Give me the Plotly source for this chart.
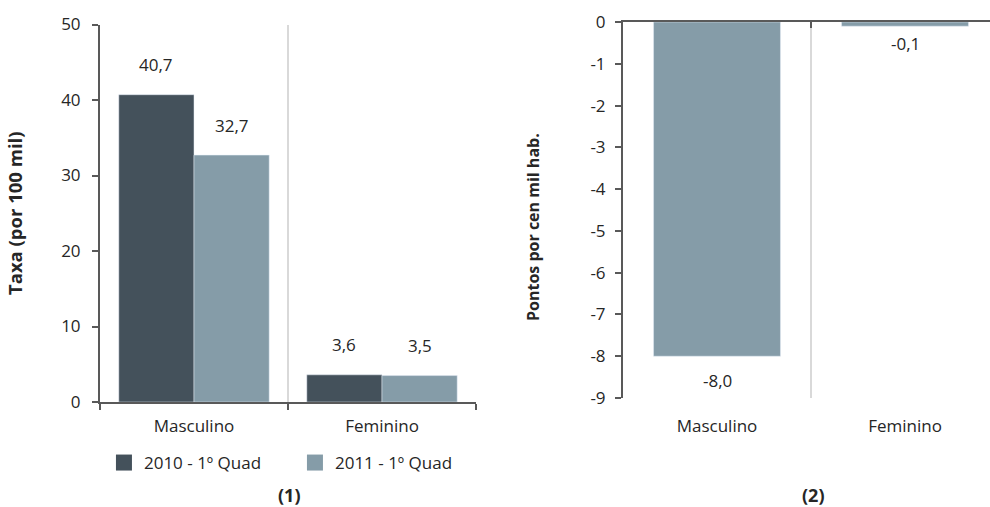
import plotly.graph_objects as go

# Data
categories = ["Masculino", "Feminino"]
taxa_2010 = [40.7, 3.6]
taxa_2011 = [32.7, 3.5]
variacao = [-8.0, -0.1]
series_names = ["2010 - 1º Quad", "2011 - 1º Quad"]
y1_ticks = [0, 10, 20, 30, 40, 50]
y2_ticks = [0, -1, -2, -3, -4, -5, -6, -7, -8, -9]

DARK = "#44515B"
LIGHT = "#859CA8"
AXIS = "#595959"
GRID = "#D9D9D9"
TXT = "#262626"
FONT = "Open Sans"
FS = 17

def fmt(v):
    return f"{v:.1f}".replace(".", ",")

fig = go.Figure()

# Chart (1): rates by sex
fig.add_trace(go.Bar(x=categories, y=taxa_2010, name=series_names[0], marker_color=DARK,
                     showlegend=False, xaxis="x", yaxis="y"))
fig.add_trace(go.Bar(x=categories, y=taxa_2011, name=series_names[1], marker_color=LIGHT,
                     showlegend=False, xaxis="x", yaxis="y"))

# Legend entries with larger square swatches
for nm, col in zip(series_names, [DARK, LIGHT]):
    fig.add_trace(go.Scatter(x=[None], y=[None], mode="markers", name=nm,
                             marker=dict(symbol="square", size=16, color=col),
                             xaxis="x", yaxis="y"))

# Chart (2): change in points
fig.add_trace(go.Bar(x=categories, y=variacao, marker_color=LIGHT, showlegend=False,
                     xaxis="x2", yaxis="y2", width=0.675))

# Dummy trace so the top axis of chart (2) is rendered
fig.add_trace(go.Scatter(x=[None], y=[None], xaxis="x3", yaxis="y2", showlegend=False))

lblfont = dict(size=FS, color=TXT, family=FONT)
annotations = []
for i, c in enumerate(categories):
    annotations.append(dict(x=c, y=taxa_2010[i], xref="x", yref="y", text=fmt(taxa_2010[i]),
                            showarrow=False, yshift=30, xshift=-37.6, yanchor="middle", font=lblfont))
    annotations.append(dict(x=c, y=taxa_2011[i], xref="x", yref="y", text=fmt(taxa_2011[i]),
                            showarrow=False, yshift=30, xshift=37.6, yanchor="middle", font=lblfont))
    annotations.append(dict(x=c, y=variacao[i], xref="x2", yref="y2", text=fmt(variacao[i]),
                            showarrow=False, yshift=-24 if i == 0 else -17, yanchor="middle",
                            font=lblfont))

annotations.append(dict(x=289 / 990, y=1 - 495 / 507, xref="paper", yref="paper", text="<b>(1)</b>",
                        showarrow=False, yanchor="middle", xanchor="center",
                        font=dict(size=18, color=TXT, family=FONT)))
annotations.append(dict(x=813 / 990, y=1 - 495 / 507, xref="paper", yref="paper", text="<b>(2)</b>",
                        showarrow=False, yanchor="middle", xanchor="center",
                        font=dict(size=18, color=TXT, family=FONT)))
# Y title of chart (2)
annotations.append(dict(x=533 / 990, y=1 - 227 / 507, xref="paper", yref="paper",
                        text="<b>Pontos por cen mil hab.</b>", textangle=-90, showarrow=False,
                        xanchor="center", yanchor="middle",
                        font=dict(size=16, color=TXT, family=FONT)))

tickfont = dict(size=FS, color=TXT, family=FONT)

fig.update_layout(
    width=990, height=507,
    margin=dict(l=0, r=0, t=0, b=0, autoexpand=False),
    paper_bgcolor="white", plot_bgcolor="white",
    font=dict(family=FONT, color=TXT),
    barmode="group", bargap=0.2, bargroupgap=0,
    showlegend=True,
    legend=dict(orientation="h", x=0.105, y=1 - 445 / 507, xanchor="left", yanchor="top",
                font=dict(size=FS, color=TXT, family=FONT), entrywidth=146, itemsizing="trace",
                bgcolor="rgba(0,0,0,0)"),
    xaxis=dict(domain=[100 / 990, 476 / 990], anchor="y", type="category", range=[-0.5, 1.5],
               showline=True, linecolor=AXIS, linewidth=2, ticks="outside", ticklen=6,
               tickcolor=AXIS, tickwidth=2, tickson="boundaries", showgrid=True,
               gridcolor=GRID, gridwidth=1.5, tickfont=tickfont, ticklabelstandoff=8,
               automargin=False, fixedrange=True),
    yaxis=dict(domain=[1 - 402 / 507, 1 - 24.5 / 507], anchor="x", range=[0, 50],
               tickvals=y1_ticks, showline=True, linecolor=AXIS, linewidth=2,
               ticks="outside", ticklen=6, tickcolor=AXIS, tickwidth=2, showgrid=False,
               zeroline=False, tickfont=tickfont, automargin=False, ticklabelstandoff=8,
               title=dict(text="<b>Taxa (por 100 mil)</b>",
                          font=dict(size=18.5, color=TXT, family=FONT), standoff=34)),
    xaxis2=dict(domain=[623 / 990, 1.0], anchor="y2", type="category", range=[-0.5, 1.452],
                showline=False, ticks="", tickson="boundaries", showgrid=True,
                gridcolor=GRID, gridwidth=1.5, tickfont=tickfont, ticklabelstandoff=16,
                automargin=False),
    xaxis3=dict(overlaying="x2", anchor="y2", side="top", range=[-0.5, 1.452],
                showline=True, linecolor=AXIS, linewidth=2, ticks="inside", ticklen=6,
                tickcolor=AXIS, tickwidth=2, tickvals=[0.5], showticklabels=False,
                showgrid=False, zeroline=False, automargin=False),
    yaxis2=dict(domain=[1 - 398 / 507, 1 - 22 / 507], anchor="x2", range=[-9, 0],
                tickvals=y2_ticks, ticktext=[str(t) for t in y2_ticks],
                showline=True, linecolor=AXIS, linewidth=2,
                ticks="outside", ticklen=6, tickcolor=AXIS, tickwidth=2, showgrid=False,
                zeroline=False, tickfont=tickfont, automargin=False, ticklabelstandoff=6),
    annotations=annotations,
)

fig.write_html("out.html")
